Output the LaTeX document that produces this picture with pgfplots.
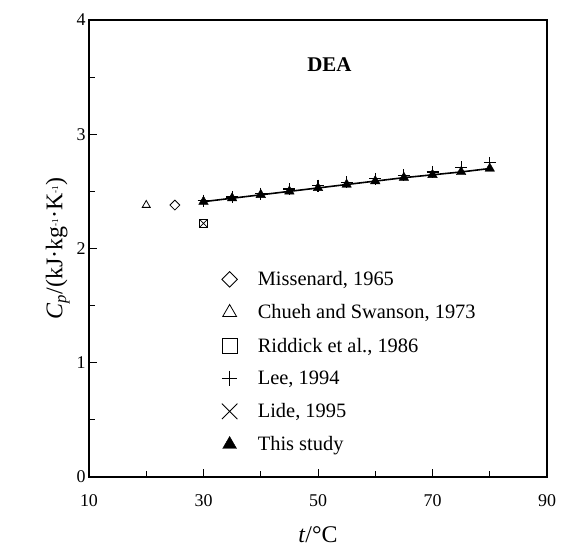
\documentclass[border=0pt]{standalone}
\usepackage{pgfplots}
\pgfplotsset{compat=1.18}
\usepackage{fontspec}
\setmainfont{Liberation Serif}
\begin{document}
\begin{tikzpicture}
\useasboundingbox (-89bp,-75bp) rectangle (472bp,477bp);
\begin{axis}[
  at={(0,0)}, anchor=south west,
  scale only axis, width=458bp, height=457bp,
  xmin=10, xmax=90, ymin=0, ymax=4,
  xtick={10,30,50,70,90}, minor xtick={20,40,60,80},
  ytick={0,1,2,3,4}, minor ytick={0.5,1.5,2.5,3.5},
  tick align=inside, tick pos=left,
  major tick length=8bp, minor tick length=6bp,
  axis line style={line width=1.5bp},
  every tick/.style={black, line width=1bp},
  /pgf/number format/assume math mode=true,
  tick label style={font=\fontsize{18}{20}\selectfont},
  xticklabel style={yshift=-14bp},
  xlabel={\textit{t}/°C},
  ylabel={\textit{C}\textsubscript{\textit{p}}/(kJ·kg{\fontsize{13}{13}\selectfont\textsuperscript{-1}}·K{\fontsize{13}{13}\selectfont\textsuperscript{-1}})},
  label style={font=\fontsize{24}{28}\selectfont},
  xlabel style={yshift=-13bp},
  ylabel style={yshift=0bp},
  legend style={at={(axis cs:32.4,1.835)}, anchor=north west, draw=none, fill=none,
    font=\fontsize{20.5}{23}\selectfont, row sep=13.5bp},
  legend cell align=left,
  legend image code/.code={\path (-9bp,0bp) (26bp,0bp); \draw[#1] plot coordinates {(0bp,0bp)};},
]
% data
\addplot[forget plot, only marks, mark=square, mark size=3.5bp, mark options={rotate=45, line width=0.8bp}] coordinates {(25,2.38)};
\addplot[forget plot, only marks, mark=triangle, mark size=4.6bp, mark options={line width=0.8bp}] coordinates {(20,2.38)};
\addplot[forget plot, only marks, mark=square, mark size=3.8bp, mark options={line width=0.8bp}] coordinates {(30,2.22)};
\addplot[forget plot, only marks, mark=x, mark size=5.2bp, mark options={line width=0.8bp}] coordinates {(30,2.22)};
\addplot[forget plot, line width=1.6bp] coordinates {
(30,2.41) (35,2.44) (40,2.47) (45,2.50) (50,2.53) (55,2.56) (60,2.59) (65,2.62) (70,2.645) (75,2.67) (80,2.70)};
\addplot[forget plot, only marks, mark=triangle*, mark size=5.5bp] coordinates {
(30,2.41) (35,2.44) (40,2.47) (45,2.50) (50,2.53) (55,2.56) (60,2.59) (65,2.62) (70,2.645) (75,2.67) (80,2.70)};
\addplot[forget plot, only marks, mark=+, mark size=6bp, mark options={line width=1.2bp}] coordinates {
(30,2.42) (35,2.45) (40,2.48) (45,2.52) (50,2.55) (55,2.58) (60,2.61) (65,2.64) (70,2.67) (75,2.71) (80,2.75)};
% legend
\addlegendimage{/tikz/only marks, mark=square, mark size=5.5bp, mark options={rotate=45, line width=0.8bp}}
\addlegendimage{/tikz/only marks, mark=triangle, mark size=8bp, mark options={line width=0.8bp}}
\addlegendimage{/tikz/only marks, mark=square, mark size=7.5bp, mark options={line width=0.8bp}}
\addlegendimage{/tikz/only marks, mark=+, mark size=7.8bp, mark options={line width=0.8bp}}
\addlegendimage{/tikz/only marks, mark=x, mark size=11bp, mark options={line width=0.8bp}}
\addlegendimage{/tikz/only marks, mark=triangle*, mark size=8bp}
\legend{{Missenard, 1965}, {Chueh and Swanson, 1973}, {Riddick et al., 1986}, {Lee, 1994}, {Lide, 1995}, {This study}}
\node[font=\bfseries\fontsize{21}{24}\selectfont] at (axis cs:52,3.61) {DEA};
\end{axis}
\end{tikzpicture}
\end{document}
